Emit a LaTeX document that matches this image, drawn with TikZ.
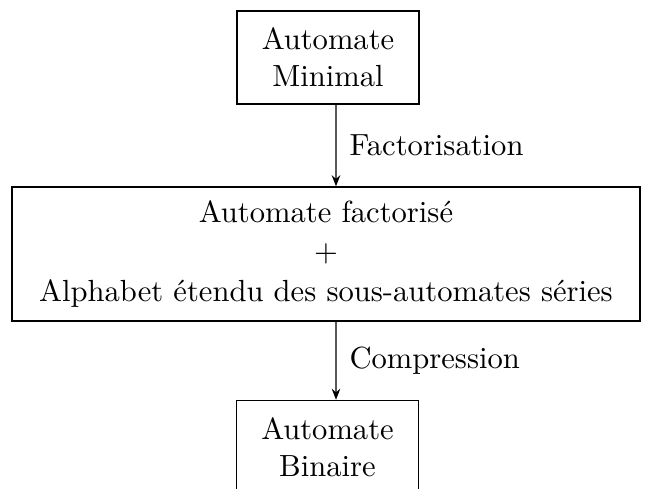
\documentclass[tikz,border=0pt]{standalone}
\usetikzlibrary{arrows.meta,positioning}
\tikzset{
  >={Stealth[length=3.6pt,width=2.8pt]},
  box/.style={draw,line width=0.5pt,align=center,inner sep=4pt},
  smallbox/.style={box,minimum width=59.4pt,minimum height=30.4pt},
  arrow/.style={->,line width=0.45pt},
  steplabel/.style={right,inner xsep=4.2pt},
}
\begin{document}
\begin{tikzpicture}[x=0.327pt,y=-0.327pt]
  \useasboundingbox (0,0) rectangle (648,488);
  \node[smallbox] (minimal) at (328,57.5) {Automate\\Minimal};
  \node[box,minimum width=205.4pt,minimum height=43.8pt] (factor) at (326,254)
    {Automate factoris\'e\\[1pt]$+$\\[1pt]Alphabet \'etendu des sous-automates s\'eries};
  \node[smallbox] (binaire) at (327.5,447) {Automate\\Binaire};

  \draw[arrow] ([xshift=2.6pt]minimal.south) -- node[steplabel] {Factorisation} ([xshift=3.27pt]factor.north);
  \draw[arrow] ([xshift=3.27pt]factor.south) -- node[steplabel] {Compression} ([xshift=2.78pt]binaire.north);
\end{tikzpicture}
\end{document}
